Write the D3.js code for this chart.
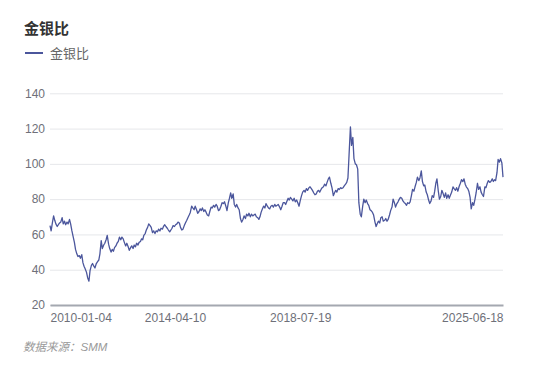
<!DOCTYPE html>
<html>
<head>
<meta charset="utf-8">
<script src="https://cdn.jsdelivr.net/npm/d3@7"></script>
<style>
body{margin:0;background:#fff;}
</style>
</head>
<body>
<div class="data_display"></div>
<script>
var w = 554;
var h = 369;

var chartTitle = "金银比";
var seriesName = "金银比";
var sourceText = "数据来源：SMM";
var yTicks = [20, 40, 60, 80, 100, 120, 140];
var xTickLabels = ["2010-01-04", "2014-04-10", "2018-07-19", "2025-06-18"];

// two readings per month (4th and 18th), one array per year
var years = [2010, 2011, 2012, 2013, 2014, 2015, 2016, 2017, 2018, 2019, 2020, 2021, 2022, 2023, 2024, 2025];
var pointDays = [4, 18];
var ratio2010 = [65, 62, 67, 70.5, 68, 66, 64.5, 65.5, 66.5, 67, 69.5, 66, 67.5, 65.5, 67, 66, 68.5, 66, 62, 59, 55.5, 51.5, 49, 47.5];
var ratio2011 = [48, 46.5, 48.5, 44, 42, 40.5, 38.5, 35.5, 33.5, 39.5, 42.5, 43.5, 42, 41, 43.5, 44.5, 45.5, 49, 56.5, 52, 54, 55, 57, 59.5];
var ratio2012 = [54.5, 52, 50, 51.5, 50.5, 52.5, 53.5, 55, 56, 58.5, 57, 58.5, 57.5, 55.5, 53.5, 55, 53, 51, 52.5, 53.5, 52, 54, 53, 55];
var ratio2013 = [54, 55.5, 56, 57.5, 57, 59.5, 60.5, 62.5, 64, 66, 65, 64, 61, 62, 60.5, 62, 61.5, 63, 62, 63.5, 63, 64.5, 65.5, 64.5];
var ratio2014 = [63.5, 62.5, 61.5, 62.5, 63.5, 65, 64.5, 65.5, 66, 67, 66.5, 64, 62.5, 63, 65, 66.5, 68, 69.5, 71, 72.5, 76, 75, 74, 76];
var ratio2015 = [74, 72, 73, 74.5, 73.5, 75, 73, 74, 72.5, 71, 70.5, 73, 75.5, 75, 76.5, 75.5, 77, 76, 73.5, 74, 76, 78, 77.5, 78.5];
var ratio2016 = [76, 73.5, 78, 80.5, 83.5, 80.5, 83, 77, 75.5, 77, 75, 74, 69, 67, 68.5, 70.5, 69, 71.5, 70.5, 72, 70, 71.5, 70.5, 71];
var ratio2017 = [71.5, 70, 69.5, 68.5, 70, 72.5, 74.5, 76, 75, 77.5, 76, 75, 74.5, 76, 76.5, 75.5, 77, 76, 76.5, 77, 75.5, 74, 76, 78];
var ratio2018 = [78, 77, 79, 80.5, 79.5, 81, 80, 79, 80.5, 78.5, 79.5, 78, 76, 79, 82, 84, 85, 84, 86, 85, 86.5, 87, 86, 85];
var ratio2019 = [83.5, 82.5, 83, 84.5, 85, 84, 85.5, 86.5, 87, 88.5, 87.5, 89.5, 91.5, 92.5, 89, 86.5, 82, 83.5, 85, 84, 86, 85.5, 86.5, 86];
var ratio2020 = [86.5, 87.5, 88.5, 89.5, 92, 105, 121, 110.5, 115, 103, 100, 99.5, 97, 78, 71.5, 70, 76, 80, 78, 79.5, 77.5, 76.5, 74, 73.5];
var ratio2021 = [72.5, 71, 67, 64.5, 66, 67.5, 66.5, 69.5, 70, 67.5, 68, 69, 67.5, 68.5, 71, 73.5, 75.5, 80, 78, 75.5, 77.5, 78.5, 80, 81];
var ratio2022 = [80.5, 79, 78, 77.5, 76.5, 78, 77.5, 78.5, 82, 85.5, 84.5, 87, 89.5, 92.5, 90.5, 92, 96, 90, 87.5, 88, 84, 82.5, 79.5, 77.5];
var ratio2023 = [79, 82, 81, 84.5, 89, 91.5, 84.5, 80, 81.5, 85, 83, 81, 83.5, 80.5, 82.5, 80.5, 82.5, 84, 87, 86, 85, 86.5, 84.5, 87];
var ratio2024 = [89, 91, 90, 91.5, 88.5, 87, 86, 84.5, 81, 74.5, 78, 76.5, 80, 83.5, 89, 85.5, 87, 84, 82.5, 81.5, 87, 86.5, 89, 90.5];
var ratio2025 = [89.5, 90, 91.5, 90, 91, 90.5, 95, 102.5, 101, 103, 100.5, 92.5];

var ratioByYear = [ratio2010, ratio2011, ratio2012, ratio2013, ratio2014, ratio2015, ratio2016, ratio2017,
	ratio2018, ratio2019, ratio2020, ratio2021, ratio2022, ratio2023, ratio2024, ratio2025];

var lineColor = "#4b569c";
var fontFamily = "'Liberation Sans', 'Noto Sans CJK SC', sans-serif";

//Build the logs list: {date, ratio}
var logs = [];
for(var k = 0; k < years.length; k++){
	var vals = ratioByYear[k];
	for(var i = 0; i < vals.length; i++){
		logs.push({
			date: new Date(years[k], Math.floor(i / 2), pointDays[i % 2]),
			ratio: vals[i]
		});
	}
}

var parseDate = d3.timeParse("%Y-%m-%d");
var fmtDate = d3.timeFormat("%Y-%m-%d");

var plotLeft = 50, plotRight = 503, plotTop = 93.3, plotBottom = 305;

var x = d3.scaleTime()
	.domain([parseDate(xTickLabels[0]), parseDate(xTickLabels[xTickLabels.length - 1])])
	.range([plotLeft, plotRight]);
var y = d3.scaleLinear()
	.domain([yTicks[0], yTicks[yTicks.length - 1]])
	.range([plotBottom, plotTop]);

var svg = d3.select(".data_display").append("svg")
	.attr("width", w)
	.attr("height", h)
	.style("display", "block")
	.style("font-family", fontFamily);

//Title
svg.append("text")
	.attr("x", 24)
	.attr("y", 34)
	.text(chartTitle)
	.style("font-size", "15px")
	.style("font-weight", "bold")
	.attr("fill", "#333");

//Legend
svg.append("line")
	.attr("x1", 25).attr("x2", 43)
	.attr("y1", 53).attr("y2", 53)
	.attr("stroke", lineColor)
	.attr("stroke-width", 2);
svg.append("text")
	.attr("x", 50)
	.attr("y", 57.5)
	.text(seriesName)
	.style("font-size", "13px")
	.attr("fill", "#666");

//Y axis with gridlines
var yAxis = svg.append("g")
	.attr("transform", "translate(" + plotLeft + ",0)")
	.call(d3.axisLeft(y)
		.tickValues(yTicks)
		.tickSize(-(plotRight - plotLeft))
		.tickPadding(5));
yAxis.select(".domain").remove();
yAxis.selectAll(".tick line")
	.attr("stroke", "#e6e7ea")
	.attr("stroke-width", 1);
yAxis.selectAll(".tick text")
	.attr("fill", "#6e7079")
	.style("font-size", "12px")
	.style("font-family", fontFamily);

//X axis
var xAxis = svg.append("g")
	.attr("transform", "translate(0," + plotBottom + ")")
	.call(d3.axisBottom(x)
		.tickValues(xTickLabels.map(parseDate))
		.tickFormat(fmtDate)
		.tickSize(0)
		.tickSizeOuter(0)
		.tickPadding(8));
xAxis.select(".domain")
	.attr("stroke", "#a4a8b0")
	.attr("stroke-width", 2);
xAxis.selectAll(".tick text")
	.attr("fill", "#6e7079")
	.style("font-size", "12px")
	.style("font-family", fontFamily)
	.attr("text-anchor", function(d, i){
		if(i == 0) return "start";
		if(i == xTickLabels.length - 1) return "end";
		return "middle";
	});

//Series line
var line = d3.line()
	.x(function(d){ return x(d.date); })
	.y(function(d){ return y(d.ratio); });

svg.append("path")
	.datum(logs)
	.attr("d", line)
	.attr("fill", "none")
	.attr("stroke", lineColor)
	.attr("stroke-width", 1.3)
	.attr("stroke-linejoin", "round");

//Source note
svg.append("text")
	.attr("x", 23)
	.attr("y", 351)
	.text(sourceText)
	.style("font-size", "11.5px")
	.style("font-style", "italic")
	.attr("fill", "#999");
</script>
</body>
</html>
